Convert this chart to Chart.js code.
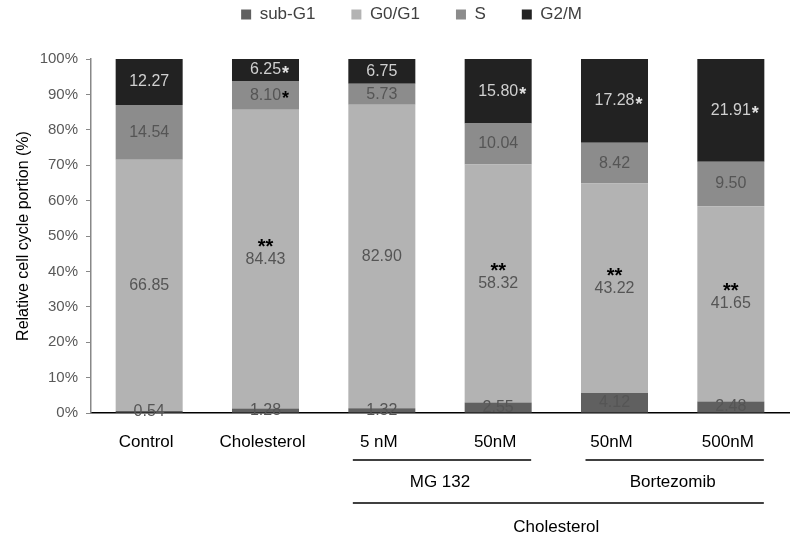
<!DOCTYPE html>
<html>
<head>
<meta charset="utf-8">
<script src="https://cdn.jsdelivr.net/npm/chart.js@4.4.1/dist/chart.umd.min.js"></script>
<style>
html, body { margin: 0; padding: 0; background: #fff; }
#cutie { width: 797px; height: 544px; }
</style>
</head>
<body>
<div id="cutie"><canvas id="grafic"></canvas></div>
<script>
// Date
const categorii = ['Control', 'Cholesterol', '5 nM', '50nM', '50nM', '500nM'];
const subG1 = [0.54, 1.28, 1.32, 2.55, 4.12, 2.48];
const g0g1 = [66.85, 84.43, 82.90, 58.32, 43.22, 41.65];
const fazaS = [14.54, 8.10, 5.73, 10.04, 8.42, 9.50];
const g2m = [12.27, 6.25, 6.75, 15.80, 17.28, 21.91];

// Semne de semnificatie
const steleG1 = ['', '**', '', '**', '**', '**'];
const steleS = ['', '*', '', '', '', ''];
const steleG2M = ['', '*', '', '*', '*', '*'];

// Grupe sub axa X (indici de categorii)
const grupe = [
    { nume: 'MG 132', de: 2, pana: 3, nivel: 0 },
    { nume: 'Bortezomib', de: 4, pana: 5, nivel: 0 },
    { nume: 'Cholesterol', de: 2, pana: 5, nivel: 1 }
];

const yTicks = [0, 10, 20, 30, 40, 50, 60, 70, 80, 90, 100];

const FONT = '"Liberation Sans", Arial, sans-serif';

// Totaluri pentru normalizare la 100%
const totaluri = categorii.map((c, i) => subG1[i] + g0g1[i] + fazaS[i] + g2m[i]);
const procent = arr => arr.map((v, i) => v / totaluri[i] * 100);

const serii = [
    { label: 'sub-G1', valori: subG1, culoare: '#606060', text: '#555555', stele: null },
    { label: 'G0/G1', valori: g0g1, culoare: '#b3b3b3', text: '#555555', stele: steleG1 },
    { label: 'S', valori: fazaS, culoare: '#8c8c8c', text: '#555555', stele: steleS },
    { label: 'G2/M', valori: g2m, culoare: '#222222', text: '#d0d0d0', stele: steleG2M }
];

// Etichete pe segmente
const eticheteSegmente = {
    id: 'eticheteSegmente',
    afterDatasetsDraw(chart) {
        const ctx = chart.ctx;
        ctx.save();
        ctx.textBaseline = 'middle';
        chart.data.datasets.forEach((ds, di) => {
            const s = serii[di];
            chart.getDatasetMeta(di).data.forEach((bar, i) => {
                const yMij = (bar.y + bar.base) / 2;
                const txt = s.valori[i].toFixed(2);
                ctx.font = '16px ' + FONT;
                ctx.textAlign = 'center';
                ctx.fillStyle = s.text;
                ctx.fillText(txt, bar.x, yMij);
                const latime = ctx.measureText(txt).width;
                if (!s.stele || !s.stele[i]) return;
                if (di === 1) {
                    ctx.font = 'bold 20px ' + FONT;
                    ctx.fillStyle = '#000';
                    ctx.textAlign = 'center';
                    ctx.fillText(s.stele[i], bar.x, yMij - 12);
                } else {
                    ctx.font = 'bold 18px ' + FONT;
                    ctx.fillStyle = di === 3 ? '#e0e0e0' : '#000';
                    ctx.textAlign = 'left';
                    ctx.fillText(s.stele[i], bar.x + latime / 2 + 1, yMij + 4);
                }
            });
        });
        ctx.restore();
    }
};

// Linii si nume de grupe sub axa
const grupeAxa = {
    id: 'grupeAxa',
    afterDraw(chart) {
        const ctx = chart.ctx;
        const x = chart.scales.x;
        const jos = chart.chartArea.bottom;
        ctx.save();
        ctx.strokeStyle = '#000';
        ctx.lineWidth = 1.5;
        ctx.fillStyle = '#000';
        ctx.font = '17px ' + FONT;
        ctx.textAlign = 'center';
        ctx.textBaseline = 'middle';
        grupe.forEach(g => {
            const x1 = x.getPixelForValue(g.de) - 29;
            const x2 = x.getPixelForValue(g.pana) + 33;
            const yLinie = jos + (g.nivel === 0 ? 47 : 90);
            const yText = jos + (g.nivel === 0 ? 69 : 114);
            ctx.beginPath();
            ctx.moveTo(x1, yLinie);
            ctx.lineTo(x2, yLinie);
            ctx.stroke();
            ctx.fillText(g.nume, (x.getPixelForValue(g.de) + x.getPixelForValue(g.pana)) / 2, yText);
        });
        ctx.restore();
    }
};

// Legenda: inaltime fixa si mutata putin
const pozLegenda = {
    id: 'pozLegenda',
    beforeInit(chart) {
        const fit = chart.legend.fit;
        chart.legend.fit = function() {
            fit.bind(chart.legend)();
            this.height = 59;
        };
    },
    afterLayout(chart) {
        const l = chart.legend;
        l.top = -30;
        l.left += 17;
        l.right += 17;
    }
};

new Chart(document.getElementById('grafic'), {
    type: 'bar',
    data: {
        labels: categorii,
        datasets: serii.map(s => ({
            label: s.label,
            data: procent(s.valori),
            backgroundColor: s.culoare,
            borderWidth: 0,
            barPercentage: 0.576,
            categoryPercentage: 1
        }))
    },
    options: {
        responsive: true,
        maintainAspectRatio: false,
        animation: false,
        layout: { padding: { right: 8 } },
        plugins: {
            tooltip: { enabled: false },
            legend: {
                position: 'top',
                labels: {
                    boxWidth: 10,
                    boxHeight: 10,
                    padding: 36,
                    color: '#404040',
                    font: { family: FONT, size: 17 }
                }
            }
        },
        scales: {
            x: {
                stacked: true,
                grid: { display: false, drawTicks: false },
                border: { display: true, color: '#000', width: 1.5 },
                ticks: { color: '#000', padding: 19, labelOffset: -3, font: { family: FONT, size: 17 } },
                afterFit(scale) { scale.height = 131; }
            },
            y: {
                stacked: true,
                min: 0,
                max: 100,
                afterBuildTicks(scale) { scale.ticks = yTicks.map(v => ({ value: v })); },
                grid: { drawOnChartArea: false, drawTicks: true, tickLength: 5, color: '#888' },
                border: { display: true, color: '#888', width: 1.5 },
                ticks: {
                    color: '#595959',
                    padding: 8,
                    font: { family: FONT, size: 15 },
                    callback: v => v + '%'
                },
                title: {
                    display: true,
                    text: 'Relative cell cycle portion (%)',
                    color: '#000',
                    padding: { top: 14, bottom: 0 },
                    font: { family: FONT, size: 16 }
                },
                afterFit(scale) { scale.width = 91; }
            }
        }
    },
    plugins: [pozLegenda, eticheteSegmente, grupeAxa]
});
</script>
</body>
</html>
